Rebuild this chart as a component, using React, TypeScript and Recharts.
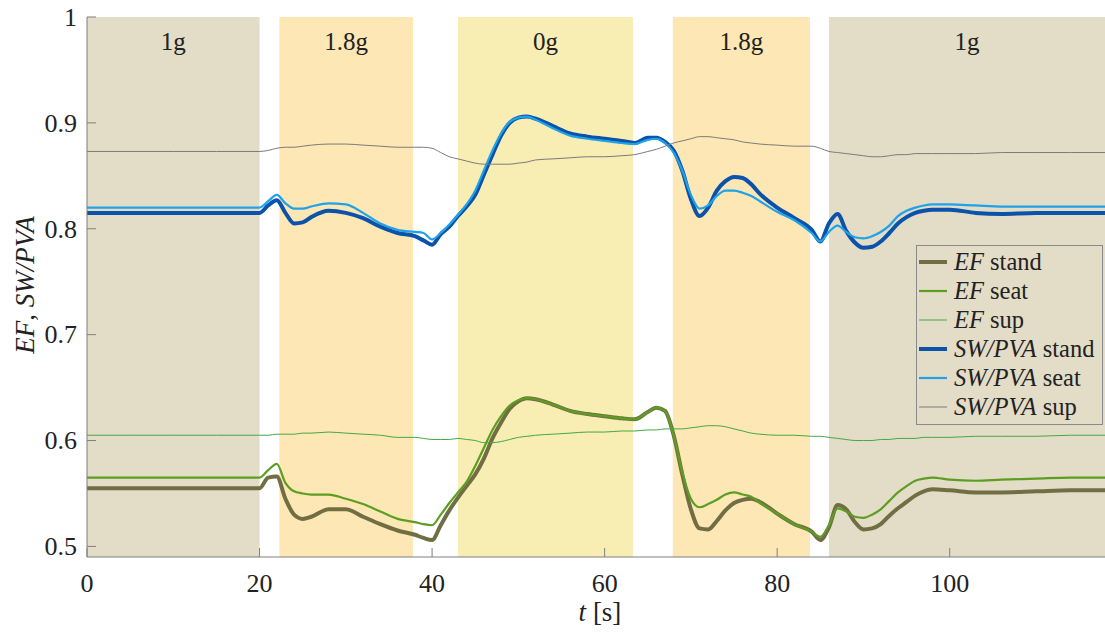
import React from "react";
import {
  LineChart,
  Line,
  XAxis,
  YAxis,
  ReferenceArea,
  Legend,
} from "recharts";

// time [s]
const t = [
  0, 5, 10, 15, 20, 21, 22, 23, 24, 25,
  26, 28, 30, 32, 34, 36, 38, 39, 40, 41,
  42, 43, 44, 45, 46, 47, 48, 49, 50, 51,
  52, 54, 56, 58, 60, 62, 63.5, 65, 66, 67,
  68, 69, 70, 71, 72, 73, 74, 75, 76, 77,
  78, 80, 82, 84, 85, 86, 87, 88, 89, 90,
  91, 92, 93, 94, 95, 96, 97, 98, 100, 103,
  106, 110, 114, 118,
];

const efStand = [
  0.555, 0.555, 0.555, 0.555, 0.555, 0.565, 0.566, 0.545, 0.530, 0.526,
  0.528, 0.535, 0.535, 0.528, 0.521, 0.515, 0.511, 0.508, 0.506, 0.520,
  0.534, 0.546, 0.557, 0.568, 0.583, 0.602, 0.617, 0.630, 0.637, 0.640,
  0.639, 0.634, 0.628, 0.625, 0.623, 0.621, 0.620, 0.627, 0.631, 0.628,
  0.605, 0.568, 0.535, 0.517, 0.516, 0.524, 0.534, 0.541, 0.544, 0.545,
  0.542, 0.531, 0.521, 0.514, 0.506, 0.518, 0.539, 0.535, 0.523, 0.516,
  0.517, 0.521, 0.529, 0.536, 0.542, 0.548, 0.552, 0.554, 0.553, 0.551,
  0.551, 0.552, 0.553, 0.553,
];

const efSeat = [
  0.565, 0.565, 0.565, 0.565, 0.565, 0.572, 0.578, 0.560, 0.552, 0.550,
  0.549, 0.549, 0.545, 0.540, 0.533, 0.526, 0.523, 0.521, 0.520, 0.530,
  0.541, 0.551, 0.561, 0.576, 0.593, 0.610, 0.623, 0.633, 0.638, 0.640,
  0.639, 0.634, 0.628, 0.625, 0.623, 0.621, 0.620, 0.627, 0.631, 0.628,
  0.605, 0.570, 0.545, 0.537, 0.540, 0.544, 0.549, 0.551, 0.549, 0.547,
  0.541, 0.531, 0.521, 0.514, 0.509, 0.520, 0.536, 0.533, 0.528, 0.527,
  0.530, 0.535, 0.543, 0.551, 0.557, 0.562, 0.564, 0.565, 0.563, 0.562,
  0.563, 0.564, 0.565, 0.565,
];

const efSup = [
  0.605, 0.605, 0.605, 0.605, 0.605, 0.605, 0.606, 0.606, 0.606, 0.607,
  0.607, 0.608, 0.607, 0.606, 0.605, 0.603, 0.603, 0.602, 0.601, 0.601,
  0.601, 0.602, 0.601, 0.600, 0.598, 0.598, 0.599, 0.601, 0.603, 0.604,
  0.605, 0.606, 0.607, 0.608, 0.608, 0.609, 0.609, 0.610, 0.610, 0.611,
  0.611, 0.611, 0.612, 0.613, 0.614, 0.614, 0.613, 0.611, 0.609, 0.607,
  0.606, 0.605, 0.605, 0.604, 0.604, 0.603, 0.602, 0.601, 0.600, 0.600,
  0.600, 0.601, 0.601, 0.602, 0.602, 0.602, 0.603, 0.603, 0.603, 0.604,
  0.604, 0.604, 0.605, 0.605,
];

const swStand = [
  0.815, 0.815, 0.815, 0.815, 0.815, 0.822, 0.827, 0.815, 0.805, 0.806,
  0.811, 0.817, 0.815, 0.810, 0.802, 0.796, 0.793, 0.789, 0.785, 0.795,
  0.802, 0.812, 0.821, 0.832, 0.851, 0.870, 0.888, 0.900, 0.905, 0.906,
  0.904, 0.897, 0.890, 0.887, 0.885, 0.883, 0.881, 0.886, 0.886, 0.882,
  0.874, 0.855, 0.828, 0.812, 0.820, 0.836, 0.845, 0.849, 0.848, 0.842,
  0.833, 0.820, 0.810, 0.799, 0.788, 0.805, 0.814, 0.798, 0.787, 0.782,
  0.783, 0.788, 0.796, 0.805, 0.811, 0.815, 0.817, 0.818, 0.818, 0.815,
  0.814, 0.815, 0.815, 0.815,
];

const swSeat = [
  0.820, 0.820, 0.820, 0.820, 0.820, 0.826, 0.832, 0.824, 0.819, 0.819,
  0.821, 0.824, 0.823, 0.815, 0.805, 0.799, 0.797, 0.796, 0.790, 0.796,
  0.804, 0.813, 0.823, 0.836, 0.855, 0.874, 0.890, 0.901, 0.905, 0.906,
  0.903, 0.895, 0.888, 0.885, 0.883, 0.881, 0.880, 0.884, 0.885, 0.881,
  0.872, 0.855, 0.832, 0.819, 0.822, 0.831, 0.836, 0.836, 0.834, 0.831,
  0.826, 0.816, 0.808, 0.796, 0.788, 0.797, 0.803, 0.797, 0.792, 0.791,
  0.793, 0.797, 0.803, 0.812, 0.817, 0.820, 0.822, 0.823, 0.823, 0.822,
  0.821, 0.821, 0.821, 0.821,
];

const swSup = [
  0.873, 0.873, 0.873, 0.873, 0.873, 0.874, 0.876, 0.877, 0.877, 0.878,
  0.879, 0.880, 0.880, 0.879, 0.878, 0.877, 0.877, 0.877, 0.876, 0.872,
  0.868, 0.866, 0.864, 0.862, 0.861, 0.861, 0.861, 0.861, 0.862, 0.863,
  0.865, 0.866, 0.867, 0.868, 0.868, 0.869, 0.870, 0.873, 0.875, 0.878,
  0.881, 0.883, 0.885, 0.887, 0.887, 0.886, 0.885, 0.884, 0.882, 0.881,
  0.880, 0.879, 0.878, 0.878, 0.876, 0.873, 0.872, 0.871, 0.870, 0.869,
  0.868, 0.868, 0.869, 0.870, 0.870, 0.871, 0.871, 0.871, 0.871, 0.871,
  0.872, 0.872, 0.872, 0.872,
];

// gravity phases
const phaseStart = [0, 22.3, 43, 67.9, 86];
const phaseEnd = [20, 37.8, 63.3, 83.8, 118];
const phaseLabel = ["1g", "1.8g", "0g", "1.8g", "1g"];

const xTicks = [0, 20, 40, 60, 80, 100];
const yTicks = [0.5, 0.6, 0.7, 0.8, 0.9, 1];

const phaseColor: Record<string, string> = {
  "1g": "#e3dcc7",
  "1.8g": "#fde7b5",
  "0g": "#f8edb3",
};

const series = [
  { key: "efStand", name: "EF stand", color: "#716e43", width: 4 },
  { key: "efSeat", name: "EF seat", color: "#5c9e22", width: 2.2 },
  { key: "efSup", name: "EF sup", color: "#45a844", width: 1 },
  { key: "swStand", name: "SW/PVA stand", color: "#0a52aa", width: 4 },
  { key: "swSeat", name: "SW/PVA seat", color: "#1fa2e8", width: 2.2 },
  { key: "swSup", name: "SW/PVA sup", color: "#7b7b7b", width: 1 },
];

const data = t.map((x, i) => ({
  t: x,
  efStand: efStand[i],
  efSeat: efSeat[i],
  efSup: efSup[i],
  swStand: swStand[i],
  swSeat: swSeat[i],
  swSup: swSup[i],
}));

const FONT = "'Liberation Serif', 'Times New Roman', serif";
const AXIS = "#7f7f7f";
const TEXT = "#222";

const YTick = ({ x, y, payload }: any) => (
  <g>
    <line x1={x + 10} x2={x + 19} y1={y} y2={y} stroke={AXIS} strokeWidth={1} />
    <text x={x} y={y} dy="0.34em" textAnchor="end" fontSize={26} fontFamily={FONT} fill={TEXT}>
      {String(payload.value)}
    </text>
  </g>
);

const XTick = ({ x, y, payload }: any) => (
  <g>
    <line x1={x} x2={x} y1={y - 9} y2={y} stroke={AXIS} strokeWidth={1} />
    <text x={x} y={y + 35} textAnchor="middle" fontSize={26} fontFamily={FONT} fill={TEXT}>
      {String(payload.value)}
    </text>
  </g>
);

const XLabel = ({ viewBox }: any) => {
  const cx = viewBox.x + viewBox.width / 2 + 4;
  return (
    <text x={cx} y={viewBox.y + 64} textAnchor="middle" fontSize={27} fontFamily={FONT} fill={TEXT}>
      <tspan fontStyle="italic">t</tspan>
      <tspan> [s]</tspan>
    </text>
  );
};

const YLabel = ({ viewBox }: any) => {
  const cx = 34;
  const cy = viewBox.y + viewBox.height / 2 - 2;
  return (
    <text
      x={cx}
      y={cy}
      transform={`rotate(-90, ${cx}, ${cy})`}
      textAnchor="middle"
      fontSize={27}
      fontFamily={FONT}
      fill={TEXT}
    >
      <tspan fontStyle="italic">EF</tspan>
      <tspan>, </tspan>
      <tspan fontStyle="italic">SW/PVA</tspan>
    </text>
  );
};

const LegendBox = ({ payload }: any) => {
  const items = [...(payload || [])].sort(
    (a: any, b: any) =>
      series.findIndex((s) => s.key === a.dataKey) - series.findIndex((s) => s.key === b.dataKey)
  );
  return (
    <div
      style={{
        boxSizing: "border-box",
        border: "1px solid #8a8a8a",
        padding: "1px 2px 3px 2px",
        fontFamily: FONT,
        fontSize: 24.5,
        color: TEXT,
        lineHeight: "29px",
        width: 187,
      }}
    >
      {items.map((p: any) => {
        const s = series.find((d) => d.key === p.dataKey)!;
        const [lead, ...rest] = s.name.split(" ");
        return (
          <div key={s.key} style={{ display: "flex", alignItems: "center", whiteSpace: "nowrap" }}>
            <svg width={28} height={10} style={{ marginRight: 7, flex: "none" }}>
              <line x1={0} x2={28} y1={5} y2={5} stroke={s.color} strokeWidth={s.width} />
            </svg>
            <span>
              <i>{lead}</i> {rest.join(" ")}
            </span>
          </div>
        );
      })}
    </div>
  );
};

export default function App() {
  return (
    <div style={{ position: "absolute", left: 0, top: 0, background: "#fff" }}>
      <LineChart
        width={1105}
        height={635}
        data={data}
        margin={{ top: 17, right: 0, left: 0, bottom: 0 }}
      >
        {phaseLabel.map((lbl, i) => (
          <ReferenceArea
            key={i}
            x1={phaseStart[i]}
            x2={phaseEnd[i]}
            y1={0.49}
            y2={1}
            fill={phaseColor[lbl]}
            fillOpacity={1}
            stroke="none"
            ifOverflow="hidden"
            label={{
              value: lbl,
              position: "insideTop",
              offset: 15,
              fontSize: 25,
              fontFamily: FONT,
              fill: TEXT,
            }}
          />
        ))}
        <XAxis
          dataKey="t"
          type="number"
          domain={[0, 118]}
          ticks={xTicks}
          height={78}
          stroke={AXIS}
          tickLine={false}
          tickSize={0}
          tickMargin={0}
          tick={<XTick />}
          label={<XLabel />}
          allowDataOverflow
        />
        <YAxis
          type="number"
          domain={[0.49, 1]}
          ticks={yTicks}
          width={87}
          stroke={AXIS}
          tickLine={false}
          tickSize={0}
          tickMargin={10}
          tick={<YTick />}
          label={<YLabel />}
          allowDataOverflow
        />
        <Legend
          layout="vertical"
          align="center"
          verticalAlign="middle"
          content={<LegendBox />}
          wrapperStyle={{ position: "absolute", left: 916, top: 245, width: 187 }}
        />
        {series.map((s) => (
          <Line
            key={s.key}
            dataKey={s.key}
            name={s.name}
            type="monotone"
            stroke={s.color}
            strokeWidth={s.width}
            dot={false}
            activeDot={false}
            isAnimationActive={false}
          />
        ))}
      </LineChart>
    </div>
  );
}
